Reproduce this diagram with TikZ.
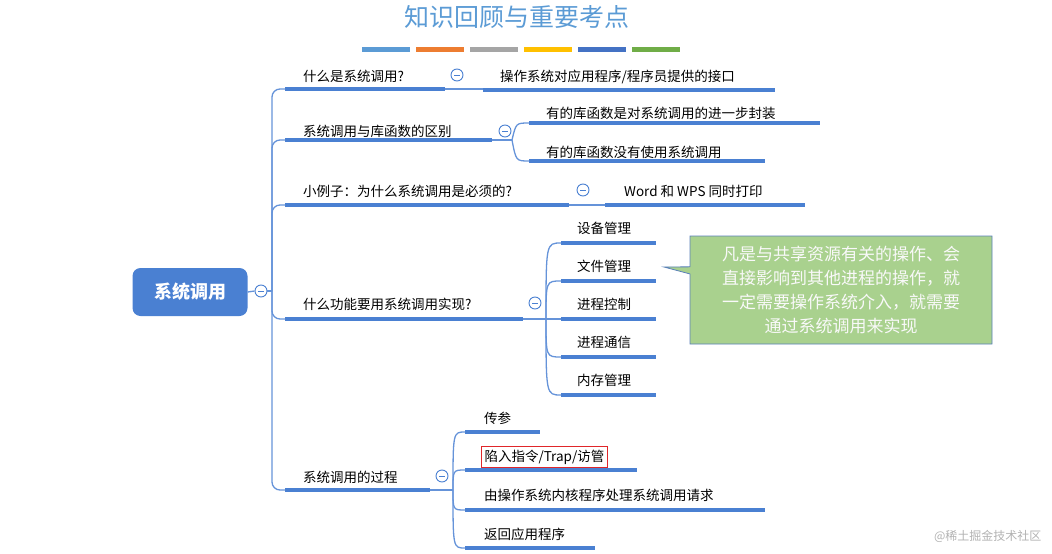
\documentclass[tikz,border=0pt]{standalone}
\usepackage{fontspec}
\setmainfont{Noto Sans CJK SC}
\newfontfamily\cjk{Noto Sans CJK SC}
\usetikzlibrary{shapes.callouts}
\definecolor{ln}{HTML}{4A80D2}
\definecolor{ttl}{HTML}{5B9BD5}
\definecolor{gbox}{HTML}{A9D18E}
\definecolor{rbox}{RGB}{224,38,42}
\tikzset{
  ul/.style={line width=3.5pt,ln},
  thin/.style={line width=1.3pt,ln!85},
  lbl/.style={anchor=base west,font=\fontsize{13.5}{15}\selectfont,inner sep=0pt},
  col/.style={circle,draw=ln,line width=0.9pt,fill=white,minimum size=12pt,inner sep=0pt,
    path picture={\draw[ln,line width=0.9pt] ([xshift=-3pt]path picture bounding box.center)--([xshift=3pt]path picture bounding box.center);}},
}
\begin{document}
\begin{tikzpicture}[x=1pt,y=-1pt]
\useasboundingbox (0,0) rectangle (1052,554);
% title
\node (title) at (517,17) {\color{ttl}\fontsize{25}{27}\selectfont 知识回顾与重要考点};
\foreach \a/\c in {362/5B9BD5,416/ED7D31,470/A5A5A5,524/FFC000,578/4472C4,632/70AD47}
  {\definecolor{bc}{HTML}{\c}\fill[bc] (\a,47) rectangle ++(48,5);}
% root
\node[fill=ln,rounded corners=8pt,minimum width=115pt,minimum height=48pt,text=white,font=\bfseries\fontsize{18}{20}\selectfont] (root) at (190,292) {系统调用};
\node[col] (rc) at (261,291) {};
\draw[thin] (root.east)--(rc.west);
\coordinate (tr) at (272,291);
\draw[thin] (rc.east)--(tr);
% branch underlines
\foreach \y/\e/\n in {89/445/b1,140/492/b2,205/569/b3,319/523/b4,490/430/b5}{
  \coordinate (\n s) at (285,\y); \coordinate (\n e) at (\e,\y);
  \draw[ul] (\n s)--(\n e);
  \draw[thin,rounded corners=8pt] (tr) |- (\n s);
}
\node[lbl] (t1) at (303,81) {什么是系统调用?};
\node[lbl] (t2) at (303,136) {系统调用与库函数的区别};
\node[lbl] (t3) at (303,196) {小例子：为什么系统调用是必须的?};
\node[lbl] (t4) at (303,309) {什么功能要用系统调用实现?};
\node[lbl] (t5) at (303,482) {系统调用的过程};
\node[col] (c1) at (457,75) {};
\node[col] (c2) at (505,131) {};
\node[col] (c3) at (583,190) {};
\node[col] (c4) at (535,303) {};
\node[col] (c5) at (442,476) {};
% branch 1
\draw[thin] (b1e)--(483,89); \draw[ul] (483,90)--(775,90);
\node[lbl] (k11) at (500,81) {操作系统对应用程序/程序员提供的接口};
% branch 2
\coordinate (p2) at (512,140);
\draw[thin] (b2e)--(p2);
\draw[ul] (529,123)--(820,123); \draw[ul] (529,161)--(765,161);
\draw[thin] (p2) .. controls (516,123) .. (529,123);
\draw[thin] (p2) .. controls (516,161) .. (529,161);
\node[lbl] (k21) at (546,118) {有的库函数是对系统调用的进一步封装};
\node[lbl] (k22) at (546,157) {有的库函数没有使用系统调用};
% branch 3
\draw[thin] (b3e)--(605,205); \draw[ul] (605,205)--(805,205);
\node[lbl] (k31) at (624,196) {Word 和 WPS 同时打印};
% branch 4
\coordinate (p4) at (546,319);
\draw[thin] (b4e)--(p4);
\foreach \y/\t/\n in {243/设备管理/k41,281/文件管理/k42,319/进程控制/k43,357/进程通信/k44,395/内存管理/k45}{
  \draw[ul] (561,\y)--(656,\y);
  \draw[thin] (p4) .. controls (546,\y) .. (561,\y);
  \node[lbl] (\n) at (577,\y-10) {\t};
}
% callout
\node[rectangle callout,fill=gbox,draw=ln!70!gray,line width=0.8pt,minimum width=302pt,minimum height=108pt,
  callout absolute pointer={(664,267)},text=white!95!gray,align=center,font=\fontsize{17}{24}\selectfont] (note) at (841,290)
  {凡是与共享资源有关的操作、会\\直接影响到其他进程的操作，就\\一定需要操作系统介入，就需要\\通过系统调用来实现};
% branch 5
\coordinate (p5) at (453,490);
\draw[thin] (b5e)--(p5);
\foreach \y/\e in {432/540,470/637,510/765,548/595}{
  \draw[ul] (465,\y)--(\e,\y);
  \draw[thin] (p5) .. controls (453,\y) .. (465,\y);
}
\node[lbl] (k51) at (484,423) {传参};
\node[lbl,draw=rbox,line width=1pt,inner sep=3pt] (k52) at (481,461) {陷入指令/Trap/访管};
\node[lbl] (k53) at (484,500) {由操作系统内核程序处理系统调用请求};
\node[lbl] (k54) at (484,539) {返回应用程序};
\node[text=gray!60,font=\fontsize{12}{14}\selectfont,anchor=east] (wm) at (1045,536) {@稀土掘金技术社区};
\end{tikzpicture}
\end{document}
